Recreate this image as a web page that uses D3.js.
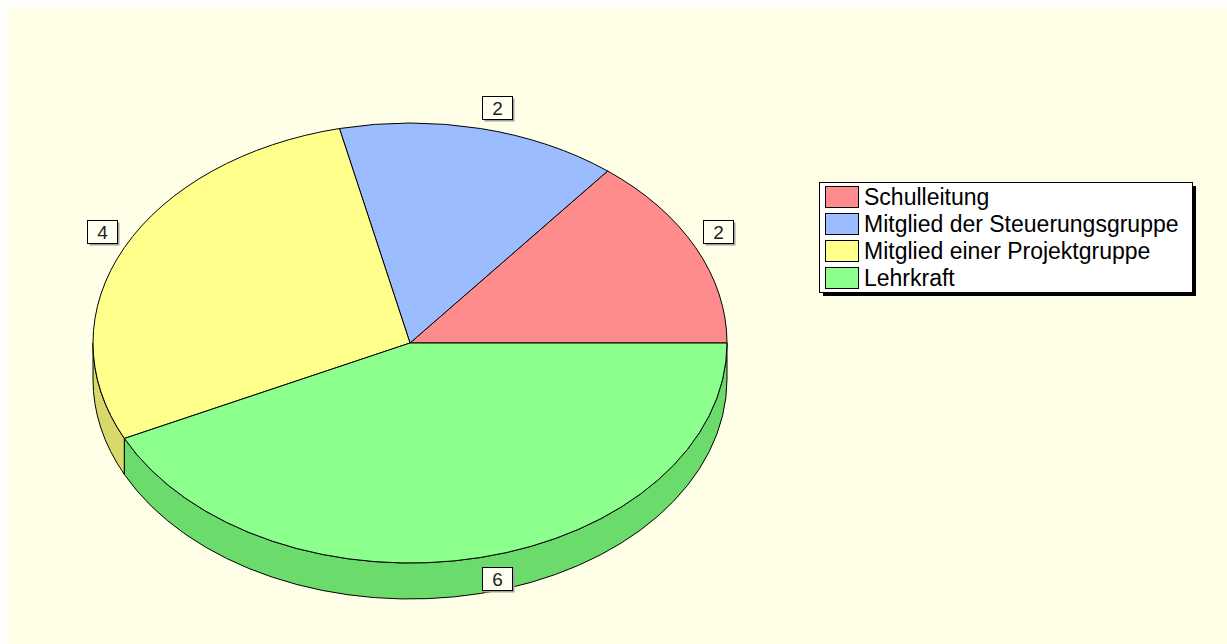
<!DOCTYPE html>
<html>
<head>
<meta charset="utf-8">
<script src="https://cdn.jsdelivr.net/npm/d3@7"></script>
<style>
  body { margin: 0; background: #ffffff; }
  text { font-family: "Liberation Sans", Arial, sans-serif; }
</style>
</head>
<body>
<div id="chart"></div>
<script>
// chart data
var categories = ["Schulleitung", "Mitglied der Steuerungsgruppe", "Mitglied einer Projektgruppe", "Lehrkraft"];
var values = [2, 2, 4, 6];
var topColors = ["#ff8c8c", "#9bbcff", "#ffff8c", "#8cff8c"];
var sideColors = ["#d96b6b", "#7a97d9", "#d9d96b", "#6bdb6b"];

var svgWidth = 1227;
var svgHeight = 644;

// ellipse geometry of the pie
var cx = 410, cy = 343, rx = 317, ry = 220, depth = 36;

var svg = d3.select("#chart").append("svg")
  .attr("width", svgWidth)
  .attr("height", svgHeight);

// cream plot background
svg.append("rect")
  .attr("x", 7).attr("y", 7)
  .attr("width", svgWidth - 7).attr("height", svgHeight - 7)
  .attr("fill", "#ffffe8");

var topColor = d3.scaleOrdinal().domain(categories).range(topColors);
var sideColor = d3.scaleOrdinal().domain(categories).range(sideColors);

// angles counter-clockwise from east
var pie = d3.pie().sort(null).startAngle(0).endAngle(2 * Math.PI);
var arcs = pie(values);

function pt(a, dy) {
  return [cx + rx * Math.cos(a), cy - ry * Math.sin(a) + (dy || 0)];
}

// sides (only the front half is visible)
arcs.forEach(function(d, i) {
  var s = Math.max(d.startAngle, Math.PI);
  var e = Math.min(d.endAngle, 2 * Math.PI);
  if (e <= s) return;
  var p0 = pt(s), p1 = pt(e), p2 = pt(e, depth), p3 = pt(s, depth);
  var path = "M" + p0 + " A" + rx + "," + ry + " 0 0 0 " + p1 +
    " L" + p2 + " A" + rx + "," + ry + " 0 0 1 " + p3 + " Z";
  svg.append("path")
    .attr("d", path)
    .attr("fill", sideColor(categories[i]))
    .attr("stroke", "#000")
    .attr("stroke-width", 1)
    .attr("stroke-linejoin", "round");
});

// top faces
arcs.forEach(function(d, i) {
  var p0 = pt(d.startAngle), p1 = pt(d.endAngle);
  var large = (d.endAngle - d.startAngle) > Math.PI ? 1 : 0;
  var path = "M" + cx + "," + cy + " L" + p0 +
    " A" + rx + "," + ry + " 0 " + large + " 0 " + p1 + " Z";
  svg.append("path")
    .attr("d", path)
    .attr("fill", topColor(categories[i]))
    .attr("stroke", "#000")
    .attr("stroke-width", 1)
    .attr("stroke-linejoin", "round");
});

// value labels in small boxes
var boxW = 30, boxH = 23;
arcs.forEach(function(d, i) {
  var mid = (d.startAngle + d.endAngle) / 2;
  var ax = cx + (rx + 8) * Math.cos(mid);
  var ay = cy - (ry + 10) * Math.sin(mid);
  var bx = Math.cos(mid) >= 0 ? ax : ax - boxW;
  var by = Math.sin(mid) >= 0 ? ay - boxH : ay;
  bx = Math.round(bx) + 0.5; by = Math.round(by) + 0.5;
  var g = svg.append("g");
  g.append("rect")
    .attr("x", bx + 2).attr("y", by + 2)
    .attr("width", boxW).attr("height", boxH)
    .attr("fill", "#a0a0a0");
  g.append("rect")
    .attr("x", bx).attr("y", by)
    .attr("width", boxW).attr("height", boxH)
    .attr("fill", "#fffff0")
    .attr("stroke", "#000");
  g.append("text")
    .attr("x", bx + boxW / 2).attr("y", by + boxH / 2 + 7)
    .attr("text-anchor", "middle")
    .style("font-size", "19px")
    .style("fill", "#222")
    .text(d.data);
});

// legend
var lx = 819, ly = 182, lw = 373, lh = 110;
svg.append("rect")
  .attr("x", lx + 4).attr("y", ly + 4)
  .attr("width", lw).attr("height", lh)
  .attr("fill", "#000");
svg.append("rect")
  .attr("x", lx + 0.5).attr("y", ly + 0.5)
  .attr("width", lw).attr("height", lh)
  .attr("fill", "#fff")
  .attr("stroke", "#000");

var legend = svg.selectAll(".legendItem")
  .data(categories)
  .enter().append("g")
  .attr("class", "legendItem")
  .attr("transform", function(d, i) { return "translate(" + (lx + 6) + "," + (ly + 4 + i * 27) + ")"; });

legend.append("rect")
  .attr("x", 0.5).attr("y", 0.5)
  .attr("width", 33).attr("height", 21)
  .attr("fill", function(d) { return topColor(d); })
  .attr("stroke", "#000");

legend.append("text")
  .attr("x", 39).attr("y", 19)
  .style("font-size", "23px")
  .style("fill", "#000")
  .text(function(d) { return d; });
</script>
</body>
</html>
